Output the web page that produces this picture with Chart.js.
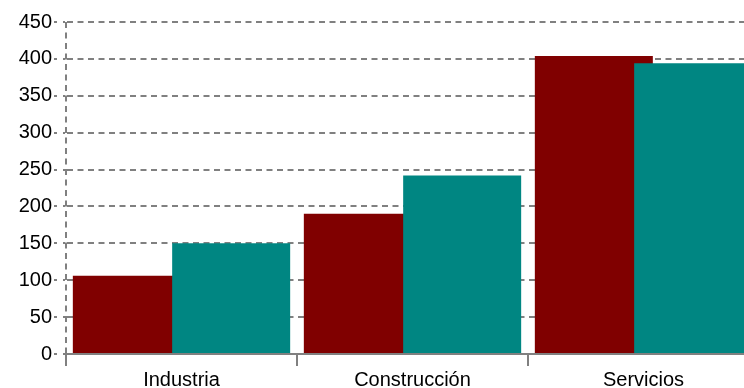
<!DOCTYPE html>
<html>
<head>
<meta charset="utf-8">
<script src="https://cdn.jsdelivr.net/npm/chart.js@4"></script>
<style>
  body { margin: 0; overflow: hidden; background: #fff; }
  #wrap { width: 760px; height: 388px; }
</style>
</head>
<body>
<div id="wrap"><canvas id="barChart"></canvas></div>
<script>
const categories = ['Industria', 'Construcción', 'Servicios'];
const serieRoja = [106, 190, 404];
const serieVerde = [150, 242, 394];
const yTicks = [0, 50, 100, 150, 200, 250, 300, 350, 400, 450];

// draw datasets in index order so the second series sits over the first
const ordenDibujo = {
  id: 'ordenDibujo',
  beforeDatasetsDraw(chart) {
    chart.data.datasets.forEach((d, i) => chart.getDatasetMeta(i).controller.draw());
    return false;
  }
};

const ctx = document.getElementById('barChart');

new Chart(ctx, {
  type: 'bar',
  data: {
    labels: categories,
    datasets: [{
      label: 'Serie 1',
      data: serieRoja,
      backgroundColor: '#800000',
      borderWidth: 0
    }, {
      label: 'Serie 2',
      data: serieVerde,
      backgroundColor: '#008682',
      borderWidth: 0
    }]
  },
  plugins: [ordenDibujo],
  options: {
    responsive: true,
    maintainAspectRatio: false,
    animation: false,
    barPercentage: 1.188,
    categoryPercentage: 0.86,
    layout: { padding: { top: 22, right: 1, left: 0, bottom: 0 } },
    plugins: {
      legend: { display: false },
      tooltip: { enabled: false }
    },
    scales: {
      x: {
        afterFit: (scale) => { scale.height = 34; },
        border: { color: '#808080', width: 2, dash: [6, 4.5] },
        grid: {
          drawOnChartArea: true,
          drawTicks: true,
          color: (c) => c.index === 0 ? '#808080' : 'rgba(0,0,0,0)',
          lineWidth: 2,
          tickLength: 12,
          tickColor: '#808080',
          tickWidth: 2,
          tickBorderDash: []
        },
        ticks: {
          color: '#000',
          padding: 2,
          font: { family: 'Liberation Sans, Arial, sans-serif', size: 20 }
        }
      },
      y: {
        min: 0,
        max: 450,
        afterFit: (scale) => { scale.width = 66; },
        afterBuildTicks: (scale) => { scale.ticks = yTicks.map(v => ({ value: v })); },
        border: { color: 'rgba(0,0,0,0)', width: 2, dash: [6, 4.5] },
        grid: {
          color: '#808080',
          lineWidth: 2,
          tickLength: 12,
          tickColor: '#808080',
          tickWidth: 2,
          tickBorderDash: [3, 6]
        },
        ticks: {
          color: '#000',
          padding: 2,
          font: { family: 'Liberation Sans, Arial, sans-serif', size: 20 }
        }
      }
    }
  }
});
</script>
</body>
</html>
